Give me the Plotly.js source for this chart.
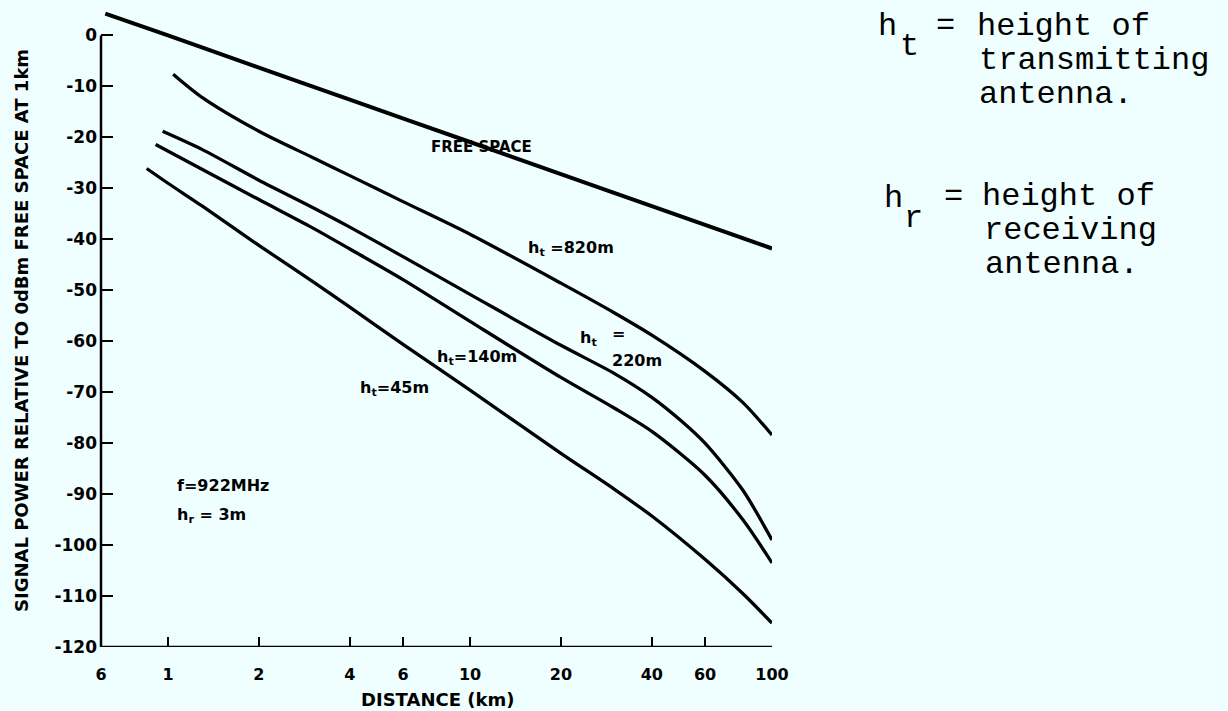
<!DOCTYPE html>
<html>
<head>
<meta charset="utf-8">
<script src="https://cdn.plot.ly/plotly-3.0.1.min.js"></script>
<style>
  html, body { margin: 0; padding: 0; background: #effefe; }
  #chart { width: 1228px; height: 711px; }
</style>
</head>
<body>
<div id="chart"></div>
<script>
// ---- Data (distance in km, signal in dB) ----
const distFree = [0.62, 1, 2, 4, 10, 20, 40, 100];
const dbFree   = [4.3, 0.0, -6.3, -12.6, -20.9, -27.2, -33.5, -41.8];

const dist820 = [1.04, 1.3, 2, 3, 4, 6, 10, 20, 30, 40, 60, 80, 100];
const db820   = [-7.6, -12.2, -18.8, -23.9, -27.5, -32.6, -39.0, -48.6, -54.4, -58.8, -65.9, -72.0, -78.4];

const dist220 = [0.96, 1.3, 2, 3, 4, 6, 10, 20, 30, 40, 50, 60, 80, 100];
const db220   = [-18.8, -22.4, -28.4, -33.7, -37.6, -43.4, -50.8, -60.8, -66.3, -71.0, -75.6, -80.0, -89.2, -99.0];

const dist140 = [0.91, 1.3, 2, 3, 4, 6, 10, 20, 30, 40, 60, 80, 100];
const db140   = [-21.4, -26.3, -32.2, -37.7, -41.9, -47.9, -56.1, -67.1, -73.1, -77.7, -86.3, -95.0, -103.5];

const dist45 = [0.85, 1, 1.3, 2, 3, 4, 6, 10, 20, 30, 40, 60, 80, 100];
const db45   = [-26.1, -29.0, -33.5, -41.2, -48.2, -53.3, -60.6, -69.6, -82.0, -89.0, -94.3, -102.8, -109.5, -115.3];

const xTickVals = [0.6, 1, 2, 4, 6, 10, 20, 40, 60, 100];
const xTickText = ["6", "1", "2", "4", "6", "10", "20", "40", "60", "100"];
const yTickVals = [0, -10, -20, -30, -40, -50, -60, -70, -80, -90, -100, -110, -120];
const yTickText = ["0", "-10", "-20", "-30", "-40", "-50", "-60", "-70", "-80", "-90", "-100", "-110", "-120"];

// ---- Layout geometry (pixels) ----
const W = 1228, H = 711;
const L = 101, R = 772, T = 10, B = 647;
const px = p => (p - L) / (R - L);
const py = p => (B - p) / (B - T);

const lblFont = { family: "DejaVu Sans", size: 16, color: "#000", weight: "bold" };
const fsFont = { family: "DejaVu Sans", size: 15, color: "#000", weight: "bold" };
const monoFont = { family: "Liberation Mono, Courier New, monospace", size: 32, color: "#000" };

function curve(x, y, w) {
  return { type: "scatter", mode: "lines", x: x, y: y,
           line: { color: "#000", width: w, shape: "spline", smoothing: 0.8 },
           hoverinfo: "skip", showlegend: false };
}

const traces = [
  curve(distFree, dbFree, 4),
  curve(dist820, db820, 3.3),
  curve(dist220, db220, 3.3),
  curve(dist140, db140, 3.3),
  curve(dist45, db45, 3.3)
];

function ann(text, x, y, font, xanchor, extra) {
  return Object.assign({ text: text, xref: "paper", yref: "paper", x: px(x), y: py(y),
    xanchor: xanchor || "center", yanchor: "middle", showarrow: false, font: font,
    borderpad: 0 }, extra || {});
}

const annotations = [
  ann("FREE SPACE", 481, 147, fsFont),
  ann("h<sub>t</sub> =820m", 527, 248, lblFont, "left"),
  ann("h<sub>t</sub>", 579, 338, lblFont, "left"),
  ann("=", 618, 333, lblFont),
  ann("220m", 611, 360, lblFont, "left"),
  ann("h<sub>t</sub>=140m", 436, 357, lblFont, "left"),
  ann("h<sub>t</sub>=45m", 359, 388, lblFont, "left"),
  ann("f=922MHz", 176, 485, lblFont, "left"),
  ann("h<sub>r</sub> = 3m", 176, 515, lblFont, "left"),
  // axis titles
  ann("DISTANCE (km)", 437, 699, { family: "DejaVu Sans", size: 18, color: "#000", weight: "bold" }),
  ann("SIGNAL POWER RELATIVE TO 0dBm FREE SPACE AT 1km", 21, 331,
      { family: "DejaVu Sans", size: 18, color: "#000", weight: "bold" }, "center", { textangle: -90 }),
  // right-hand key
  ann("h", 877, 27, monoFont, "left"),
  ann("t", 899, 46, monoFont, "left"),
  ann("=", 935, 25, monoFont, "left"),
  ann("height of", 976, 27, monoFont, "left"),
  ann("transmitting", 978, 61, monoFont, "left"),
  ann("antenna.", 978, 95, monoFont, "left"),
  ann("h", 883, 198, monoFont, "left"),
  ann("r", 903, 218, monoFont, "left"),
  ann("=", 943, 196, monoFont, "left"),
  ann("height of", 981, 196, monoFont, "left"),
  ann("receiving", 983, 230, monoFont, "left"),
  ann("antenna.", 984, 264, monoFont, "left")
];

const layout = {
  width: W, height: H,
  margin: { l: L, r: W - R, t: T, b: H - B, pad: 0 },
  paper_bgcolor: "#effefe",
  plot_bgcolor: "rgba(0,0,0,0)",
  showlegend: false,
  xaxis: {
    type: "log", range: [Math.log10(0.6), 2],
    tickmode: "array", tickvals: xTickVals, ticktext: xTickText,
    ticks: "inside", ticklen: 10, tickwidth: 2, tickcolor: "#000",
    showgrid: false, zeroline: false, showline: false,
    tickfont: { family: "DejaVu Sans", size: 16, color: "#000", weight: "bold" },
    ticklabelstandoff: 16, fixedrange: true
  },
  yaxis: {
    range: [-120, 5],
    tickmode: "array", tickvals: yTickVals, ticktext: yTickText,
    ticks: "inside", ticklen: 12, tickwidth: 2, tickcolor: "#000",
    showgrid: false, zeroline: false, showline: false,
    tickfont: { family: "DejaVu Sans", size: 17, color: "#000", weight: "bold" },
    ticklabelstandoff: 3, fixedrange: true
  },
  shapes: [
    { type: "line", xref: "paper", yref: "y", x0: 0, x1: 0, y0: -120, y1: 0,
      line: { color: "#000", width: 2.5 } },
    { type: "line", xref: "paper", yref: "y", x0: 0, x1: 1, y0: -120, y1: -120,
      line: { color: "#000", width: 2.5 } }
  ],
  annotations: annotations
};

Plotly.newPlot("chart", traces, layout, { displayModeBar: false, staticPlot: true });
</script>
</body>
</html>
